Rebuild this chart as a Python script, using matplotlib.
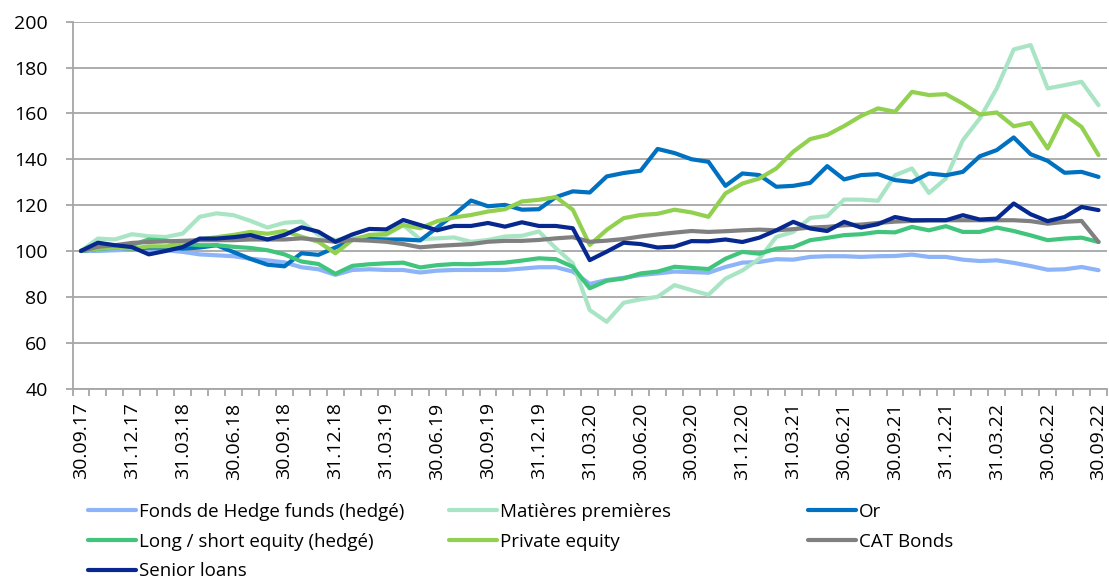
import matplotlib
matplotlib.use("Agg")
import matplotlib.pyplot as plt
from matplotlib.lines import Line2D

plt.rcParams['font.family'] = ['Open Sans', 'DejaVu Sans']

quarter_labels = ["30.09.17", "31.12.17", "31.03.18", "30.06.18", "30.09.18", "31.12.18",
                  "31.03.19", "30.06.19", "30.09.19", "31.12.19", "31.03.20", "30.06.20",
                  "30.09.20", "31.12.20", "31.03.21", "30.06.21", "30.09.21", "31.12.21",
                  "31.03.22", "30.06.22", "30.09.22"]

hedge_funds = [100, 100, 100.3, 100.6, 101, 100.3, 99.6, 98.5, 98.1, 97.7, 96.6, 95.9, 95,
               92.9, 92, 89.6, 91.7, 92, 91.7, 91.7, 90.6, 91.4, 91.7, 91.7, 91.7, 91.7, 92.3,
               92.9, 92.9, 91, 85.6, 87.3, 88.3, 89.5, 90.2, 91, 90.8, 90.5, 93, 94.9, 95.2,
               96.4, 96.2, 97.4, 97.7, 97.7, 97.4, 97.7, 97.8, 98.4, 97.4, 97.4, 96.2, 95.6,
               95.9, 94.8, 93.4, 91.8, 92, 93, 91.6]
commodities = [100, 105.4, 105, 107.3, 106.4, 106.1, 107.6, 114.9, 116.4, 115.6, 113.1, 110.2,
               112.3, 112.8, 107, 104.8, 105.5, 106.2, 107, 111.3, 105.1, 105.5, 105.9, 104,
               104.8, 106.3, 106.6, 108.5, 101.2, 94.6, 74.2, 69.1, 77.4, 78.9, 80, 85.1, 82.9,
               80.9, 87.9, 91.5, 96.6, 106.1, 108.3, 114.4, 115.2, 122.4, 122.4, 121.9, 133,
               136, 125.3, 131.6, 148.3, 157.8, 170.9, 187.9, 189.8, 170.9, 172.3, 173.8, 163.6]
gold = [100, 101, 101.5, 101, 101.5, 101.5, 101, 101.5, 102.5, 99.5, 96.5, 94, 93.3, 99, 98.3,
        101.5, 104.8, 105.2, 105, 105, 104.6, 110.2, 115.9, 122, 119.5, 120.1, 118, 118.2,
        123.5, 126, 125.5, 132.5, 134, 135, 144.5, 142.7, 140, 138.9, 128.4, 133.8, 133.1,
        128, 128.4, 129.7, 137, 131.2, 133.1, 133.5, 130.9, 130.1, 133.8, 133, 134.5, 141.3,
        144, 149.5, 142.2, 139.3, 134.1, 134.5, 132.3]
long_short = [100, 101, 101.3, 102.5, 105, 104.5, 103.2, 102.5, 102.5, 101.8, 101.3, 100.3,
              98.5, 95.4, 94.3, 90, 93.5, 94.2, 94.6, 94.9, 92.8, 93.8, 94.3, 94.2, 94.6, 94.9,
              95.8, 96.8, 96.4, 93.1, 83.7, 87, 88, 90.2, 91, 93.1, 92.6, 92.1, 96.6, 99.6, 98.8,
              101, 101.7, 104.7, 105.7, 106.9, 107.3, 108.3, 108.1, 110.5, 109, 110.8, 108.3,
              108.3, 110.2, 108.7, 106.8, 104.7, 105.4, 105.8, 103.9]
private_equity = [100, 101, 101.5, 101, 102, 102, 103, 105, 106, 107, 108.3, 107.5, 108.7,
                  106.2, 104, 99, 104.8, 107, 107.4, 111.3, 109.9, 113, 114.6, 115.7, 117.2,
                  118.2, 121.6, 122.3, 123.5, 118, 102.6, 109.2, 114.3, 115.7, 116.2, 118, 116.8,
                  114.9, 125.1, 129.4, 131.6, 136, 143.3, 148.8, 150.6, 154.5, 158.9, 162.2,
                  160.7, 169.4, 168, 168.4, 164.3, 159.5, 160.4, 154.4, 155.9, 144.7, 159.5,
                  154.1, 141.8]
cat_bonds = [100, 101.8, 102.5, 103.5, 103.9, 104.2, 104.4, 104.7, 104.7, 104.7, 105, 105, 105,
             105.5, 104.8, 104, 104.8, 104.5, 104, 103, 101.6, 102.2, 102.6, 103, 104, 104.4,
             104.4, 104.8, 105.5, 106, 104, 104.5, 105.2, 106.3, 107.2, 108, 108.7, 108.3,
             108.6, 109, 109.3, 109, 109.5, 110.2, 110.5, 111.2, 111.5, 112.2, 112.8, 113.1,
             113.4, 113.4, 113.4, 113.4, 113.4, 113.4, 113, 111.9, 112.7, 113.1, 103.9]
senior_loans = [100, 103.6, 102.5, 101.7, 98.5, 100, 101.7, 105.4, 105.4, 106, 106.9, 105, 107,
                110.3, 108.4, 104, 107.2, 109.6, 109.4, 113.5, 111.3, 109, 110.9, 110.9, 112.2,
                110.6, 112.5, 110.9, 110.9, 109.9, 96, 99.7, 103.6, 103, 101.5, 101.9, 104.3,
                104.2, 105, 103.9, 105.8, 109, 112.7, 109.8, 108.7, 112.7, 110.2, 111.7, 114.8,
                113.4, 113.4, 113.4, 115.6, 113.7, 114.1, 120.7, 116, 113, 114.8, 119.2, 117.8]

series_names = ["Fonds de Hedge funds (hedgé)", "Matières premières", "Or",
                "Long / short equity (hedgé)", "Private equity", "CAT Bonds", "Senior loans"]
series_values = [hedge_funds, commodities, gold, long_short, private_equity, cat_bonds, senior_loans]
series_colors = ["#8DB3F9", "#A9E5C5", "#0070C0", "#41C47B", "#92D050", "#808080", "#07288F"]

y_ticks = [40, 60, 80, 100, 120, 140, 160, 180, 200]

W, H = 1109, 579
fig = plt.figure(figsize=(W / 100, H / 100), dpi=100)
ax = fig.add_axes([72.5 / W, (H - 388.5) / H, (1107 - 72.5) / W, (388.5 - 21.7) / H])

n = len(hedge_funds)
x = list(range(n))
handles = {}
for name, vals, col in zip(series_names, series_values, series_colors):
    ln, = ax.plot(x, vals, color=col, lw=3.0, solid_joinstyle='round',
                  solid_capstyle='round', zorder=3)
    handles[name] = ln

ax.set_xlim(-0.5, n - 0.5)
ax.set_ylim(40, 200)
ax.set_yticks(y_ticks)
ax.set_yticklabels([str(v) for v in y_ticks])
ax.yaxis.grid(True, color="#A6A6A6", lw=1.3, zorder=0)
for s in ["top", "right"]:
    ax.spines[s].set_visible(False)
for s in ["left", "bottom"]:
    ax.spines[s].set_color("#A6A6A6")
    ax.spines[s].set_linewidth(1.3)

# category boundary tick marks, labels at every third category
ax.set_xticks([i - 0.5 for i in range(n + 1)], minor=True)
ax.set_xticks(list(range(0, n, 3)))
ax.set_xticklabels(quarter_labels, rotation=90, fontsize=14)
ax.tick_params(axis='x', which='major', length=0, pad=10)
ax.tick_params(axis='x', which='minor', length=5, color="#A6A6A6", width=1.3)
ax.tick_params(axis='y', length=5, color="#A6A6A6", width=1.3, labelsize=14, pad=13)

# legend in three columns
cols = [(["Fonds de Hedge funds (hedgé)", "Long / short equity (hedgé)", "Senior loans"], 88),
        (["Matières premières", "Private equity"], 449),
        (["Or", "CAT Bonds"], 808)]
for names, xpix in cols:
    hs = [Line2D([], [], color=handles[nm].get_color(), lw=3.0, solid_capstyle='round')
          for nm in names]
    fig.legend(hs, names, loc='upper left', bbox_to_anchor=(xpix / W, 1 - 503 / H),
               frameon=False, fontsize=13.5, handlelength=2.55, handletextpad=0.15,
               labelspacing=0.62, borderpad=0, borderaxespad=0)

fig.savefig("out.png", dpi=100)
